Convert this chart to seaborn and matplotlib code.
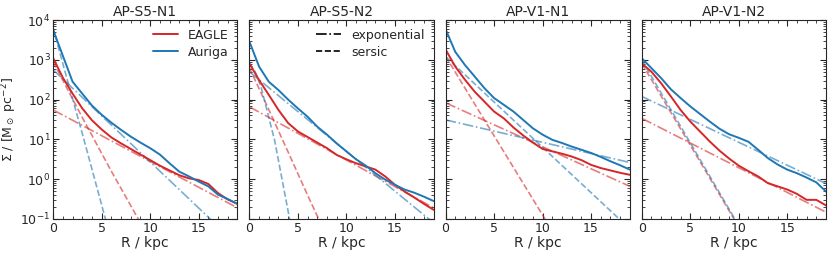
import numpy as np
import pandas as pd
import seaborn as sns
from matplotlib import pyplot as plt
from matplotlib.lines import Line2D
from matplotlib.ticker import LogLocator, MultipleLocator, NullFormatter

# ----------------------------------------------------------------------------------------------------------------------
#   Dados (log10 Sigma)
# ----------------------------------------------------------------------------------------------------------------------

panels = ["AP-S5-N1", "AP-S5-N2", "AP-V1-N1", "AP-V1-N2"]
radius = list(range(20))

# perfis medidos
eagle_prof = {
    "AP-S5-N1": [3.04, 2.55, 2.15, 1.78, 1.48, 1.25, 1.05, 0.90, 0.76, 0.62,
                 0.48, 0.34, 0.22, 0.10, 0.02, -0.02, -0.12, -0.35, -0.51, -0.62],
    "AP-S5-N2": [2.91, 2.49, 2.12, 1.74, 1.41, 1.20, 1.06, 0.92, 0.78, 0.61,
                 0.50, 0.40, 0.32, 0.24, 0.07, -0.14, -0.31, -0.46, -0.62, -0.77],
    "AP-V1-N1": [3.26, 2.83, 2.50, 2.20, 1.95, 1.70, 1.53, 1.30, 1.10, 0.92,
                 0.76, 0.70, 0.64, 0.57, 0.48, 0.36, 0.28, 0.22, 0.16, 0.11],
    "AP-V1-N2": [2.91, 2.70, 2.41, 2.08, 1.74, 1.45, 1.20, 0.95, 0.72, 0.52,
                 0.34, 0.20, 0.07, -0.10, -0.18, -0.26, -0.37, -0.52, -0.52, -0.66],
}
auriga_prof = {
    "AP-S5-N1": [3.75, 3.10, 2.45, 2.15, 1.85, 1.62, 1.42, 1.24, 1.07, 0.92,
                 0.78, 0.62, 0.40, 0.19, 0.07, -0.06, -0.18, -0.39, -0.50, -0.62],
    "AP-S5-N2": [3.46, 2.83, 2.45, 2.24, 2.00, 1.78, 1.57, 1.32, 1.12, 0.90,
                 0.70, 0.50, 0.34, 0.15, -0.01, -0.14, -0.26, -0.34, -0.44, -0.55],
    "AP-V1-N1": [3.77, 3.20, 2.87, 2.58, 2.29, 2.04, 1.87, 1.70, 1.49, 1.28,
                 1.12, 0.99, 0.91, 0.82, 0.74, 0.66, 0.56, 0.45, 0.35, 0.24],
    "AP-V1-N2": [3.04, 2.79, 2.54, 2.26, 2.04, 1.83, 1.64, 1.45, 1.27, 1.13,
                 1.04, 0.94, 0.74, 0.53, 0.37, 0.24, 0.15, 0.04, -0.08, -0.31],
}

# ajustes exponenciais (pontos R, log10 Sigma)
eagle_exp = {
    "AP-S5-N1": ([0, 19], [1.74, -0.72]),
    "AP-S5-N2": ([0, 19], [1.82, -0.72]),
    "AP-V1-N1": ([0, 19], [1.92, -0.18]),
    "AP-V1-N2": ([0, 19], [1.53, -0.83]),
}
auriga_exp = {
    "AP-S5-N1": ([0, 19], [2.75, -1.65]),
    "AP-S5-N2": ([0, 19], [2.70, -1.10]),
    "AP-V1-N1": ([0, 19], [1.49, 0.42]),
    "AP-V1-N2": ([0, 19], [2.08, -0.11]),
}

# ajustes sersic
eagle_ser = {
    "AP-S5-N1": ([0, 3, 6, 9], [2.95, 1.55, 0.20, -1.10]),
    "AP-S5-N2": ([0, 2, 4, 6, 8], [2.80, 1.75, 0.68, -0.40, -1.45]),
    "AP-V1-N1": ([0, 4.1, 10.1, 10.5], [3.09, 1.45, -0.94, -1.10]),
    "AP-V1-N2": ([0, 10], [2.91, -1.20]),
}
auriga_ser = {
    "AP-S5-N1": ([0, 1, 2, 3, 4, 5, 6], [3.80, 2.90, 2.02, 1.15, 0.25, -0.65, -1.55]),
    "AP-S5-N2": ([0, 0.6, 1.2, 2.6, 4.1, 4.5], [2.90, 2.70, 2.32, 0.98, -0.94, -1.45]),
    "AP-V1-N1": ([0, 19], [3.08, -1.25]),
    "AP-V1-N2": ([0, 10], [3.00, -1.17]),
}

c_eagle = "#d62728"
c_auriga = "#1f77b4"

# ======================================================================================================================


def to_df(curves, sim):
    rows = []
    for p in panels:
        r, v = curves[p]
        for ri, vi in zip(r, v):
            rows.append({"panel": p, "R": ri, "sigma": 10 ** vi, "sim": sim})
    return pd.DataFrame(rows)


def main():
    sns.set_style("ticks")
    plt.rcParams["font.family"] = ["DejaVu Sans"]

    prof = pd.concat([
        to_df({p: (radius, eagle_prof[p]) for p in panels}, "EAGLE"),
        to_df({p: (radius, auriga_prof[p]) for p in panels}, "Auriga"),
    ], ignore_index=True)
    expo = pd.concat([to_df(eagle_exp, "EAGLE"), to_df(auriga_exp, "Auriga")], ignore_index=True)
    sers = pd.concat([to_df(eagle_ser, "EAGLE"), to_df(auriga_ser, "Auriga")], ignore_index=True)
    pal = {"EAGLE": c_eagle, "Auriga": c_auriga}

    fig, axes = plt.subplots(1, 4, figsize=(8.31, 2.54), dpi=100, sharey=True)
    fig.subplots_adjust(left=0.064, right=0.994, top=0.921, bottom=0.138, wspace=0.065)

    for i, (ax, p) in enumerate(zip(axes, panels)):
        sns.lineplot(data=expo[expo.panel == p], x="R", y="sigma", hue="sim", palette=pal,
                     ax=ax, linestyle="-.", lw=1.2, alpha=0.6, legend=False, estimator=None, sort=False)
        sns.lineplot(data=sers[sers.panel == p], x="R", y="sigma", hue="sim", palette=pal,
                     ax=ax, linestyle="--", lw=1.2, alpha=0.6, legend=False, estimator=None, sort=False)
        sns.lineplot(data=prof[prof.panel == p], x="R", y="sigma", hue="sim", palette=pal,
                     ax=ax, lw=1.4, legend=False, estimator=None, sort=False)

        ax.set_yscale("log")
        ax.set_xlim(0, 19)
        ax.set_ylim(1e-1, 1e4)
        ax.set_title(p, fontsize=10, pad=3)
        ax.set_xlabel("R / kpc", fontsize=10, labelpad=1)
        ax.set_ylabel("")
        ax.xaxis.set_major_locator(MultipleLocator(5))
        ax.xaxis.set_minor_locator(MultipleLocator(1))
        ax.yaxis.set_major_locator(LogLocator(base=10, numticks=10))
        ax.yaxis.set_minor_locator(LogLocator(base=10, subs=np.arange(2, 10), numticks=10))
        ax.yaxis.set_minor_formatter(NullFormatter())
        ax.tick_params(which="both", direction="in", top=True, right=True, labelsize=9)
        ax.tick_params(which="major", length=4, width=0.8, pad=2)
        ax.tick_params(which="minor", length=2, width=0.6)
        for s in ax.spines.values():
            s.set_linewidth(0.8)

    axes[0].set_ylabel(r"$\Sigma$ / [M$_\odot$ pc$^{-2}$]", fontsize=9)
    axes[0].yaxis.set_label_coords(-0.185, 0.5)

    h1 = [Line2D([], [], color=c_eagle, lw=1.4), Line2D([], [], color=c_auriga, lw=1.4)]
    axes[0].legend(h1, ["EAGLE", "Auriga"], loc="upper right", frameon=False, fontsize=9,
                   handlelength=2.0, borderaxespad=0.3, labelspacing=0.3)
    h2 = [Line2D([], [], color="k", ls="-.", lw=1.2), Line2D([], [], color="k", ls="--", lw=1.2)]
    axes[1].legend(h2, ["exponential", "sersic"], loc="upper right", frameon=False, fontsize=9,
                   handlelength=2.0, borderaxespad=0.3, labelspacing=0.3)

    fig.savefig("out.png", dpi=100)


main()
